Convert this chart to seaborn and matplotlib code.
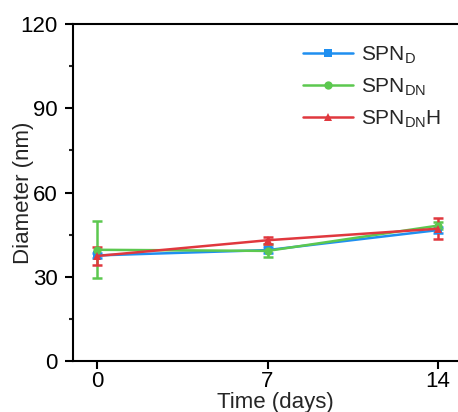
import matplotlib
matplotlib.use("Agg")
import matplotlib.pyplot as plt
import seaborn as sns
import pandas as pd

days = [0, 7, 14]
series_names = ["SPN$_{\\mathregular{D}}$", "SPN$_{\\mathregular{DN}}$", "SPN$_{\\mathregular{DN}}$H"]
spn_d = [37.6, 39.5, 46.6]
spn_d_err = [1.0, 1.0, 1.0]
spn_dn = [39.6, 39.2, 48.2]
spn_dn_err = [10.2, 2.3, 1.2]
spn_dnh = [37.4, 43.0, 47.1]
spn_dnh_err = [3.3, 1.2, 3.7]

colors = ["#1f8ff0", "#5cc84f", "#e0383e"]
markers = ["s", "o", "^"]

sns.set_style("ticks")
plt.rcParams["font.family"] = ["Liberation Sans", "DejaVu Sans"]
plt.rcParams["mathtext.fontset"] = "custom"
plt.rcParams["mathtext.rm"] = "Liberation Sans"

df = pd.DataFrame({
    "Time": days * 3,
    "Diameter": spn_d + spn_dn + spn_dnh,
    "err": spn_d_err + spn_dn_err + spn_dnh_err,
    "Sample": [series_names[0]] * 3 + [series_names[1]] * 3 + [series_names[2]] * 3,
})

fig = plt.figure(figsize=(4.58, 4.12), dpi=100)
ax = fig.add_axes([73 / 458, 1 - 361 / 412, (462 - 73) / 458, (361 - 24) / 412])

for i, name in enumerate(series_names):
    sub = df[df["Sample"] == name]
    ax.errorbar(sub["Time"], sub["Diameter"], yerr=sub["err"], fmt="none",
                ecolor=colors[i], elinewidth=1.8, capsize=3.5, capthick=1.8, zorder=2 + i)

sns.lineplot(data=df, x="Time", y="Diameter", hue="Sample", style="Sample",
             palette=colors, markers=markers, dashes=False, linewidth=1.8,
             markersize=6, markeredgewidth=0, ax=ax, zorder=5)

ax.set_xlim(-1, 15)
ax.set_ylim(0, 120)
ax.set_xticks(days)
ax.set_yticks([0, 30, 60, 90, 120])
ax.set_yticks([15, 45, 75, 105], minor=True)
ax.tick_params(axis="both", which="major", direction="out", length=6, width=1.5,
               labelsize=16, colors="black")
ax.tick_params(axis="y", which="major", pad=5)
ax.tick_params(axis="x", which="major", pad=1.5)
ax.tick_params(axis="y", which="minor", direction="out", length=3, width=1.5)
for s in ax.spines.values():
    s.set_linewidth(1.5)
    s.set_color("black")

ax.set_xlabel("Time (days)", fontsize=16)
ax.set_ylabel("Diameter (nm)", fontsize=16)
ax.xaxis.set_label_coords((275.5 - 73) / 389, (361 - 392) / 337)
ax.yaxis.set_label_coords((34 - 73) / 389, 0.5)

leg = ax.legend(loc="upper left", bbox_to_anchor=(0.57, 0.965), frameon=False,
                fontsize=15, handlelength=2.4, handletextpad=0.4, labelspacing=0.5,
                borderaxespad=0)

fig.savefig("out.png", dpi=100)
